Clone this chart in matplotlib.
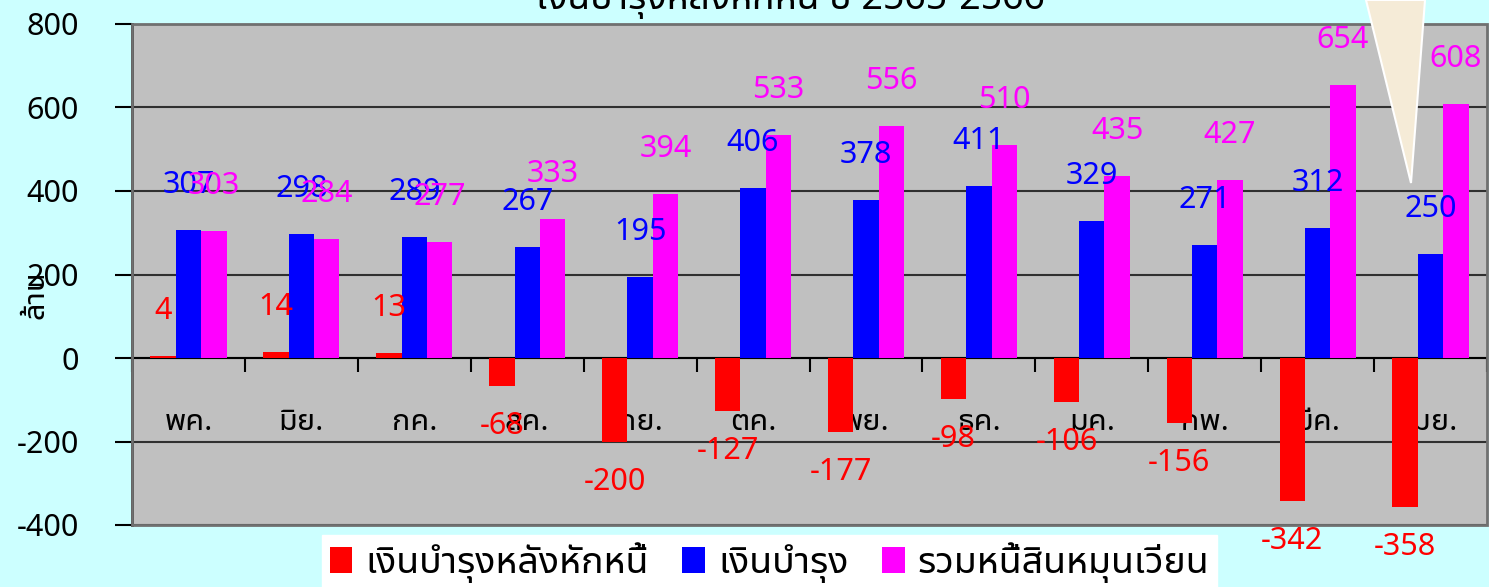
import matplotlib
matplotlib.use("Agg")
import matplotlib.pyplot as plt
import numpy as np
from matplotlib.patches import Polygon, Rectangle

months = ["พค.", "มิย.", "กค.", "สค.", "กย.", "ตค.", "พย.", "ธค.", "มค.", "กพ.", "มีค.", "เมย."]
net_funds = [4, 14, 13, -68, -200, -127, -177, -98, -106, -156, -342, -358]
funds = [307, 298, 289, 267, 195, 406, 378, 411, 329, 271, 312, 250]
current_debt = [303, 284, 277, 333, 394, 533, 556, 510, 435, 427, 654, 608]
series_names = ["เงินบำรุงหลังหักหนี้", "เงินบำรุง", "รวมหนี้สินหมุนเวียน"]
title = "เงินบำรุงหลังหักหนี้ ปี 2565-2566"

plt.rcParams["font.family"] = ["Noto Sans Thai UI", "Noto Sans Thai", "DejaVu Sans"]

BG = "#CCFFFF"
fig = plt.figure(figsize=(14.89, 5.87), dpi=100, facecolor=BG)
ax = fig.add_axes([132 / 1489, 62 / 587, 1355 / 1489, 501 / 587])
ax.set_facecolor("#C0C0C0")

x = np.arange(len(months))
w = 0.225
colors = ["#FF0000", "#0000FF", "#FF00FF"]
for i, (vals, c, name) in enumerate(zip([net_funds, funds, current_debt], colors, series_names)):
    bars = ax.bar(x + (i - 1) * w, vals, w, color=c, label=name, zorder=3)
    for b, v in zip(bars, vals):
        off = 32.4 if v >= 0 else -28.8
        ax.annotate(str(v), (b.get_x() + b.get_width() / 2, v),
                    xytext=(0, off), textcoords="offset points",
                    ha="center", va="center", color=c, fontsize=22,
                    zorder=5, annotation_clip=False)

ax.set_xlim(-0.5, len(months) - 0.5)
ax.set_ylim(-400, 800)
ax.set_yticks(range(-400, 801, 200))
ax.yaxis.grid(True, color="#303030", lw=1.5, zorder=1)
ax.tick_params(axis="y", labelsize=22, length=12, width=1.5, pad=26)

# category axis sits at zero, labels inside the plot
ax.spines["bottom"].set_position(("data", 0))
ax.spines["bottom"].set_linewidth(1.5)
ax.set_xticks(np.arange(len(months) + 1) - 0.5)
ax.set_xticklabels([])
ax.set_xticks(x, minor=True)
ax.set_xticklabels(months, minor=True)
ax.tick_params(axis="x", which="major", length=10, width=1.5, direction="out")
ax.tick_params(axis="x", which="minor", length=0, labelsize=22, pad=35)
for s in ["top", "right"]:
    ax.spines[s].set_visible(False)
ax.spines["left"].set_linewidth(2)
ax.add_patch(Rectangle((0, 0), 1, 1, transform=ax.transAxes, fill=False,
                       edgecolor="#707070", lw=2, zorder=4, clip_on=False))
ax.set_ylabel("ล้าน", fontsize=22)
ax.yaxis.set_label_coords(-0.06, 0.46)

fig.text(790 / 1489, 1 + 1 / 587, title, ha="center", va="center",
         fontsize=27, fontweight="bold")

# callout pointer
fig.patches.append(Polygon([(1366 / 1489, 1.0), (1425 / 1489, 1.0),
                            (1411 / 1489, 1 - 183 / 587)], closed=True,
                           transform=fig.transFigure, facecolor="#F5EBD7",
                           edgecolor="white", lw=1.5, zorder=10))

fig.legend(loc="upper left", bbox_to_anchor=(322 / 1489, 1 - 535 / 587),
           ncol=3, frameon=True, facecolor="white", edgecolor="white",
           fancybox=False, framealpha=1, fontsize=27, handlelength=0.6,
           handleheight=0.7, handletextpad=0.35, columnspacing=0.9,
           borderaxespad=0, borderpad=0.2)

fig.savefig("out.png", dpi=100, facecolor=BG)
